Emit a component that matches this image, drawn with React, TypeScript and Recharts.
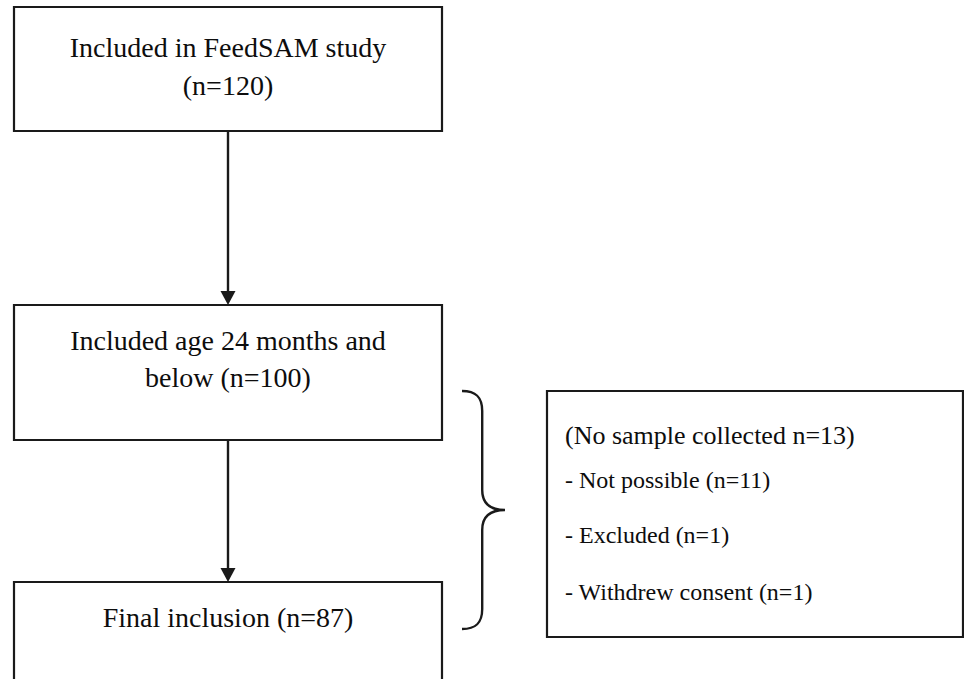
import React from 'react';
import { ComposedChart, XAxis, YAxis, ReferenceArea, ReferenceLine, Scatter } from 'recharts';

// ---- data ----
const stageLabels = ['Included in FeedSAM study', 'Included age 24 months and below', 'Final inclusion'];
const stageCounts = [120, 100, 87];
const notCollectedLabel = 'No sample collected';
const notCollectedTotal = 13;
const exclusionReasons = ['Not possible', 'Excluded', 'Withdrew consent'];
const exclusionCounts = [11, 1, 1];

// ---- layout (pixel-space domain) ----
const W = 964;
const H = 679;
const stageBoxes = [
  { x1: 14, x2: 442, y1: 7, y2: 131 },
  { x1: 14, x2: 442, y1: 305, y2: 440 },
  { x1: 14, x2: 442, y1: 582, y2: 720 },
];
const stageBaselines = [[57, 95], [350, 387], [627]];
const sideBox = { x1: 547, x2: 963, y1: 391, y2: 637 };
const sideBaselines = [444, 488, 543, 600];
const sideSizes = [26, 24, 24, 24];
const sideTextX = 565;
const brace = { left: 462, tip: 505, top: 391, bottom: 629 };
const STROKE = '#1a1a1a';
const FONT = '"Liberation Serif", "Times New Roman", serif';

function wrap(text: string, maxChars: number): string[] {
  const words = text.split(' ');
  const lines: string[] = [];
  let cur = '';
  for (const w of words) {
    const next = cur ? cur + ' ' + w : w;
    if (next.length > maxChars && cur) {
      lines.push(cur);
      cur = w;
    } else cur = next;
  }
  if (cur) lines.push(cur);
  return lines;
}

type TextItem = { x: number; y: number; text: string; size: number; anchor: string };

const textItems: TextItem[] = [];
stageLabels.forEach((label, i) => {
  const b = stageBoxes[i];
  const lines = wrap(`${label} (n=${stageCounts[i]})`, 26);
  lines.forEach((ln, j) => {
    textItems.push({ x: (b.x1 + b.x2) / 2, y: stageBaselines[i][j], text: ln, size: 28, anchor: 'middle' });
  });
});
const sideLines = [
  `(${notCollectedLabel} n=${notCollectedTotal})`,
  ...exclusionReasons.map((r, i) => `- ${r} (n=${exclusionCounts[i]})`),
];
sideLines.forEach((ln, j) => {
  textItems.push({ x: sideTextX, y: sideBaselines[j], text: ln, size: sideSizes[j], anchor: 'start' });
});

const arrows = [0, 1].map((i) => ({
  x: (stageBoxes[i].x1 + stageBoxes[i].x2) / 2,
  from: stageBoxes[i].y2,
  to: stageBoxes[i + 1].y1,
}));

const ArrowShape = (props: any) => {
  const { x1, y1, x2, y2 } = props;
  const head = 14;
  const half = 7.5;
  return (
    <g>
      <line x1={x1} y1={y1} x2={x2} y2={y2 - head + 1} stroke={STROKE} strokeWidth={2.4} />
      <polygon points={`${x2 - half},${y2 - head} ${x2 + half},${y2 - head} ${x2},${y2}`} fill={STROKE} />
    </g>
  );
};

const BraceShape = (props: any) => {
  const { x1, y1, x2, y2 } = props;
  const left = Math.min(x1, x2);
  const tip = Math.max(x1, x2);
  const top = Math.min(y1, y2);
  const bottom = Math.max(y1, y2);
  const mid = (top + bottom) / 2;
  const vx = left + (tip - left) * 0.47;
  const r = 20;
  const d = [
    `M ${left} ${top}`,
    `C ${left + 14} ${top} ${vx} ${top + 6} ${vx} ${top + r}`,
    `L ${vx} ${mid - r}`,
    `C ${vx} ${mid - 6} ${vx + 8} ${mid} ${tip} ${mid}`,
    `C ${vx + 8} ${mid} ${vx} ${mid + 6} ${vx} ${mid + r}`,
    `L ${vx} ${bottom - r}`,
    `C ${vx} ${bottom - 6} ${left + 14} ${bottom} ${left} ${bottom}`,
  ].join(' ');
  return <path d={d} fill="none" stroke={STROKE} strokeWidth={2.4} />;
};

const TextShape = (props: any) => {
  const { cx, cy, payload } = props;
  return (
    <text
      x={cx}
      y={cy}
      textAnchor={payload.anchor}
      fontSize={payload.size}
      fontFamily={FONT}
      fill="#0d0d0d"
    >
      {payload.text}
    </text>
  );
};

export default function App() {
  return (
    <div style={{ position: 'absolute', left: 0, top: 0, width: W, height: H, background: '#fff', overflow: 'hidden' }}>
      <ComposedChart width={W} height={H} data={textItems} margin={{ top: 0, right: 0, bottom: 0, left: 0 }}>
        <XAxis type="number" dataKey="x" domain={[0, W]} hide allowDataOverflow />
        <YAxis type="number" dataKey="y" domain={[0, H]} reversed hide allowDataOverflow />
        {stageBoxes.map((b, i) => (
          <ReferenceArea
            key={'b' + i}
            x1={b.x1}
            x2={b.x2}
            y1={b.y1}
            y2={b.y2}
            fill="none"
            fillOpacity={0}
            stroke={STROKE}
            strokeWidth={2.2}
            ifOverflow="visible"
          />
        ))}
        <ReferenceArea
          x1={sideBox.x1}
          x2={sideBox.x2}
          y1={sideBox.y1}
          y2={sideBox.y2}
          fill="none"
          fillOpacity={0}
          stroke={STROKE}
          strokeWidth={2.2}
          ifOverflow="visible"
        />
        {arrows.map((a, i) => (
          <ReferenceLine
            key={'a' + i}
            segment={[{ x: a.x, y: a.from }, { x: a.x, y: a.to }]}
            ifOverflow="visible"
            shape={ArrowShape}
          />
        ))}
        <ReferenceLine
          segment={[{ x: brace.left, y: brace.top }, { x: brace.tip, y: brace.bottom }]}
          ifOverflow="visible"
          shape={BraceShape}
        />
        <Scatter data={textItems} dataKey="y" shape={TextShape} isAnimationActive={false} />
      </ComposedChart>
    </div>
  );
}
